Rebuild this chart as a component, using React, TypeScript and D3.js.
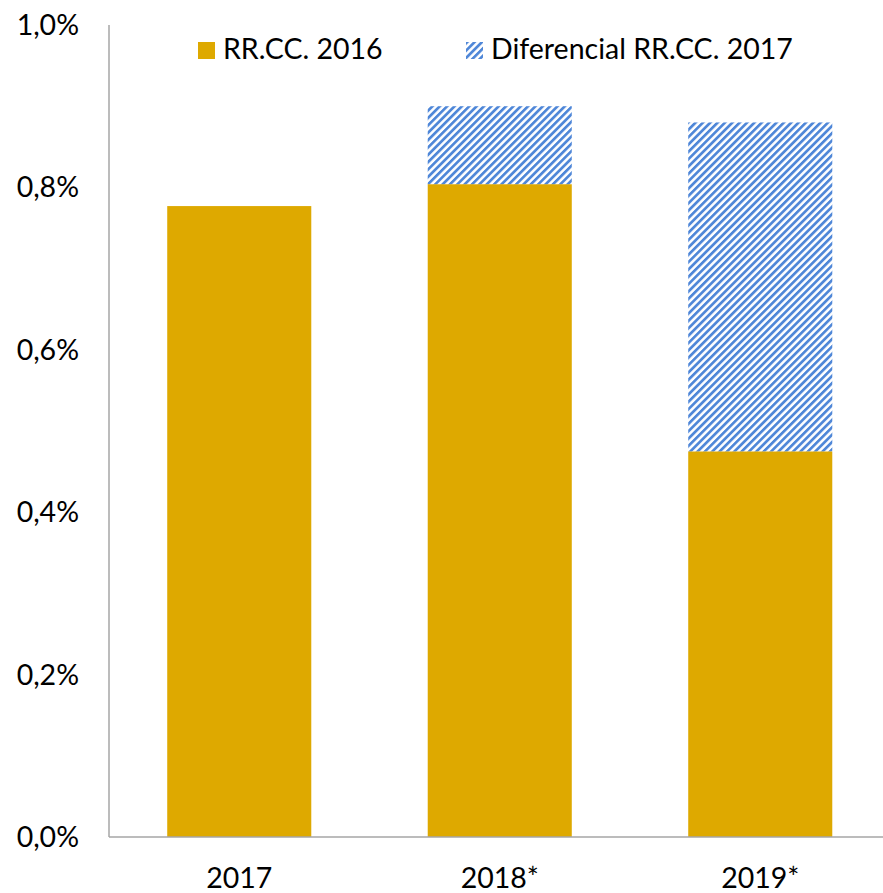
import React from "react";
import * as d3 from "d3";

const categories = ["2017", "2018*", "2019*"];
const rrcc2016 = [0.777, 0.804, 0.475];
const diferencial2017 = [0, 0.096, 0.405];
const yTicks = [0, 0.2, 0.4, 0.6, 0.8, 1.0];
const seriesNames = ["RR.CC. 2016", "Diferencial RR.CC. 2017"];

const W = 883;
const H = 893;
const GOLD = "#DEA900";
const BLUE = "#4F87D8";
const FONT = "Lato, 'Open Sans', sans-serif";
const FS = 28.5;

export default function App() {
  const x = d3.scaleBand<string>().domain(categories).range([109, 890.5]).paddingInner(0.447).paddingOuter(0.2235);
  const y = d3.scaleLinear().domain([0, 1]).range([837, 25]);
  const fmt = (v: number) => d3.format(".1f")(v * 100 / 100).replace(".", ",") + "%";
  const stacks = d3.stack<number>().keys(["a", "b"]).value((i, k) => (k === "a" ? rrcc2016[i] : diferencial2017[i]))(d3.range(categories.length));
  return (
    <svg width={W} height={H} style={{ position: "absolute", left: 0, top: 0, background: "#fff" }}>
      <defs>
        <pattern id="hatch" patternUnits="userSpaceOnUse" width="5.2" height="5.2" patternTransform="rotate(45)">
          <rect x="0" y="0" width="5.2" height="5.2" fill="#fff" />
          <rect x="0" y="0" width="2.7" height="5.2" fill={BLUE} />
        </pattern>
      </defs>
      <rect width={W} height={H} fill="#fff" />
      {stacks.map((s, si) =>
        s.map((d, i) =>
          d[1] - d[0] > 0 ? (
            <rect
              key={si + "-" + i}
              x={x(categories[i])}
              width={x.bandwidth()}
              y={y(d[1])}
              height={y(d[0]) - y(d[1])}
              fill={si === 0 ? GOLD : "url(#hatch)"}
            />
          ) : null
        )
      )}
      <line x1={109} x2={W} y1={y(0)} y2={y(0)} stroke="#A6A6A6" strokeWidth={1.5} />
      <line x1={109} x2={109} y1={y(1)} y2={y(0)} stroke="#A6A6A6" strokeWidth={1.5} />
      {yTicks.map((t) => (
        <text key={t} x={79} y={y(t) + 10} textAnchor="end" fontFamily={FONT} fontSize={FS} fill="#000">
          {fmt(t)}
        </text>
      ))}
      {categories.map((c) => (
        <text key={c} x={(x(c) as number) + x.bandwidth() / 2} y={888} textAnchor="middle" fontFamily={FONT} fontSize={FS} fill="#000">
          {c}
        </text>
      ))}
      <rect x={198} y={42} width={17} height={17} fill={GOLD} />
      <text x={223} y={59} fontFamily={FONT} fontSize={FS} fill="#000">{seriesNames[0]}</text>
      <rect x={466} y={42} width={17} height={17} fill="url(#hatch)" />
      <text x={491} y={59} fontFamily={FONT} fontSize={FS} fill="#000">{seriesNames[1]}</text>
    </svg>
  );
}
